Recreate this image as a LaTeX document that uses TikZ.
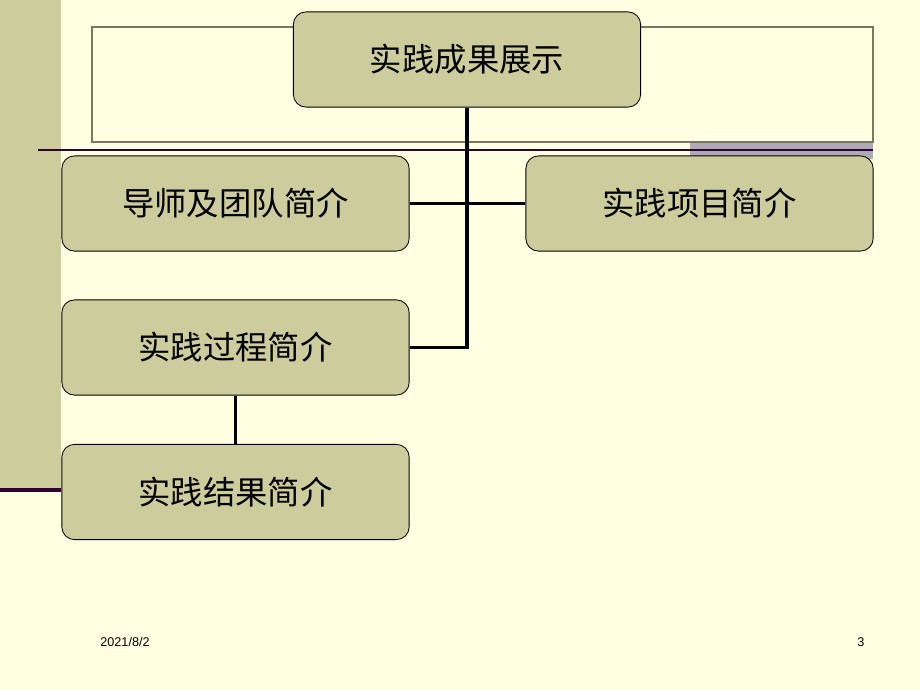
\documentclass[tikz,border=0pt]{standalone}
\usepackage{fontspec}
\setmainfont{Liberation Sans}
\newfontfamily\cjk{Noto Sans CJK SC}
\usetikzlibrary{positioning,calc}
\definecolor{SlideBg}{RGB}{255,255,226}
\definecolor{Olive}{RGB}{204,204,156}
\definecolor{DarkPlum}{RGB}{51,0,51}
\definecolor{FrameGray}{RGB}{120,120,96}
\definecolor{BarGray}{RGB}{172,170,180}

\begin{document}
\begin{tikzpicture}[x=0.025cm, y=-0.025cm,
    box/.style={rounded corners=9pt, draw=black, line width=0.6pt, fill=Olive,
      minimum width=8.68cm, minimum height=2.38cm, align=center,
      font=\cjk\fontsize{23}{27}\selectfont},
    conn/.style={line width=2.2pt, black},
    foot/.style={font=\fontsize{9}{11}\selectfont}
  ]
    % slide background and decoration
    \fill[SlideBg] (0,0) rectangle (920,690);
    \useasboundingbox (0,0) rectangle (920,690);
    \fill[Olive] (0,0) rectangle (61,490);
    \draw[DarkPlum, line width=2.4pt] (0,490) -- (61,490);
    \fill[BarGray] (690,143) rectangle (873,159);
    \draw[DarkPlum, line width=1.2pt] (38,150) -- (873,150);
    \draw[FrameGray, line width=1pt] (92,27) rectangle (873,142);

    % nodes
    \node[box] (root) at (467,59.5) {实践成果展示};
    \node[box] (team) at (235.5,203.5) {导师及团队简介};
    \node[box] (proj) at (699.5,203.5) {实践项目简介};
    \node[box] (proc) at (235.5,347.5) {实践过程简介};
    \node[box] (res) at (235.5,492) {实践结果简介};

    % connectors
    \draw[conn] (root.south) |- (proc.east);
    \draw[conn] (team.east) -- (proj.west);
    \draw[conn] (proc.south) -- (res.north);

    % footer
    \node[foot] (date) at (125,642) {2021/8/2};
    \node[foot] (page) at (861,642) {3};
  \end{tikzpicture}
\end{document}
